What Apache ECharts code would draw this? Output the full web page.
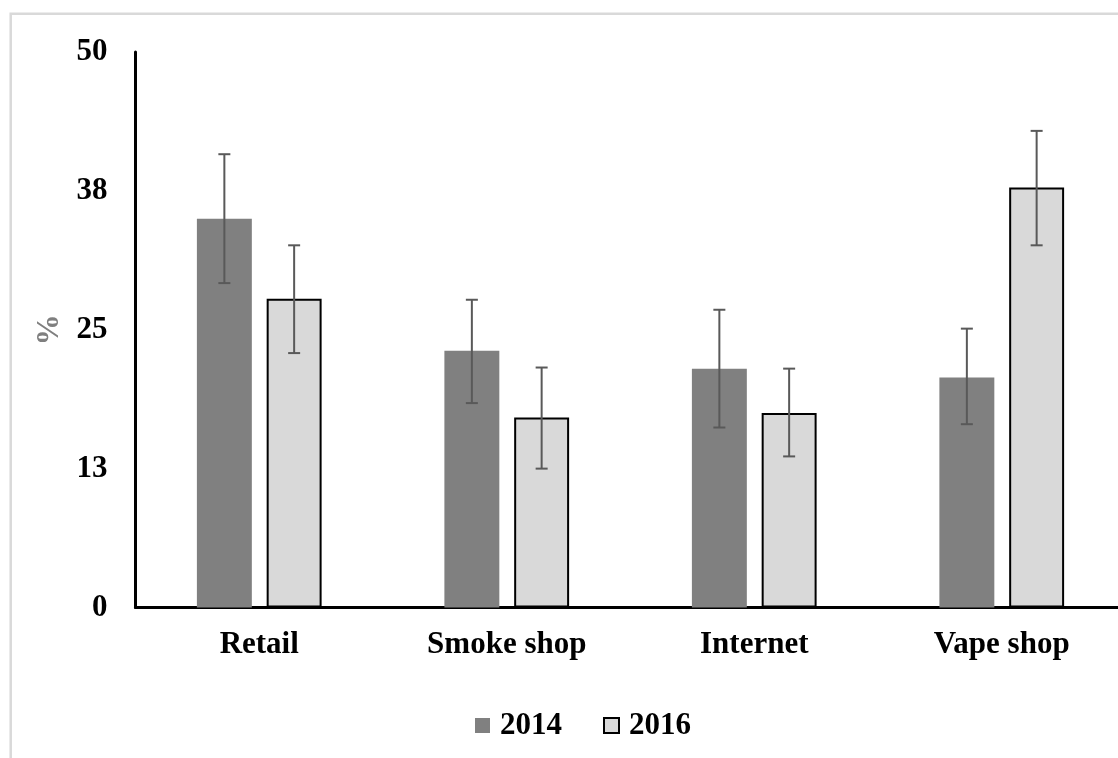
<!DOCTYPE html>
<html>
<head>
<meta charset="utf-8">
<script src="https://cdn.jsdelivr.net/npm/echarts@6/dist/echarts.min.js"></script>
<style>html,body{margin:0;padding:0;background:#fff;overflow:hidden;width:1118px;height:758px;}#c{width:1126px;height:758px;}</style>
</head>
<body>
<div id="c"></div>
<script>
const categories = ['Retail', 'Smoke shop', 'Internet', 'Vape shop'];
const values2014 = [35.0, 23.1, 21.5, 20.7];
const values2016 = [27.8, 17.1, 17.5, 37.8];
const errLow2014 = [29.2, 18.4, 16.2, 16.5];
const errHigh2014 = [40.8, 27.7, 26.8, 25.1];
const errLow2016 = [22.9, 12.5, 13.6, 32.6];
const errHigh2016 = [32.6, 21.6, 21.5, 42.9];
const yTicks = [0, 12.5, 25, 37.5, 50];

const FONT = '"Liberation Serif", "Times New Roman", serif';
const BAR_W = 0.222, BAR_GAP = 0.27;

function errSeries(low, high, side) {
  return {
    type: 'custom',
    silent: true,
    z: 10,
    data: categories.map((c, i) => [i, low[i], high[i]]),
    renderItem: function (params, api) {
      const bw = api.size([1, 0])[0];
      const bar = bw * BAR_W;
      const off = side * (bar + bar * BAR_GAP) / 2;
      const p1 = api.coord([api.value(0), api.value(1)]);
      const p2 = api.coord([api.value(0), api.value(2)]);
      const x = p1[0] + off;
      const cap = 6;
      const st = { stroke: '#595959', lineWidth: 2 };
      return {
        type: 'group',
        children: [
          { type: 'line', shape: { x1: x, y1: p1[1], x2: x, y2: p2[1] }, style: st },
          { type: 'line', shape: { x1: x - cap, y1: p1[1], x2: x + cap, y2: p1[1] }, style: st },
          { type: 'line', shape: { x1: x - cap, y1: p2[1], x2: x + cap, y2: p2[1] }, style: st }
        ]
      };
    }
  };
}

const chart = echarts.init(document.getElementById('c'));
chart.setOption({
  backgroundColor: '#fff',
  animation: false,
  graphic: [{
    type: 'rect', silent: true, z: -1,
    shape: { x: 10.7, y: 13.7, width: 1300, height: 900 },
    style: { fill: 'none', stroke: '#d9d9d9', lineWidth: 2.5 }
  }],
  grid: { left: 135.5, top: 52, width: 990, bottom: 150.5, containLabel: false },
  legend: {
    left: 470, top: 705,
    itemWidth: 15, itemHeight: 15, itemGap: 41,
    icon: 'rect',
    textStyle: { fontFamily: FONT, fontSize: 31, fontWeight: 'bold', color: '#000', padding: [0, 0, 0, 5] },
    data: ['2014', '2016']
  },
  xAxis: {
    type: 'category',
    data: categories,
    axisLine: { lineStyle: { color: '#000', width: 3 } },
    axisTick: { show: false },
    axisLabel: { fontFamily: FONT, fontSize: 31, fontWeight: 'bold', color: '#000', margin: 22 }
  },
  yAxis: {
    type: 'value',
    min: 0, max: 50, interval: 12.5,
    name: '%',
    nameLocation: 'middle',
    nameRotate: 90,
    nameGap: 70,
    nameTextStyle: { fontFamily: FONT, fontSize: 31, fontWeight: 'bold', color: '#7f7f7f' },
    axisLine: { show: true, lineStyle: { color: '#000', width: 3 } },
    axisTick: { show: false },
    splitLine: { show: false },
    axisLabel: {
      fontFamily: FONT, fontSize: 31, fontWeight: 'bold', color: '#000', margin: 28,
      formatter: v => String(Math.round(v))
    }
  },
  series: [
    {
      name: '2014', type: 'bar', data: values2014,
      barWidth: (BAR_W * 100) + '%', barGap: (BAR_GAP * 100) + '%',
      itemStyle: { color: '#808080' }
    },
    {
      name: '2016', type: 'bar', data: values2016,
      barWidth: (BAR_W * 100) + '%', barGap: (BAR_GAP * 100) + '%',
      itemStyle: { color: '#d9d9d9', borderColor: '#000', borderWidth: 2 }
    },
    errSeries(errLow2014, errHigh2014, -1),
    errSeries(errLow2016, errHigh2016, 1)
  ]
});
</script>
</body>
</html>
